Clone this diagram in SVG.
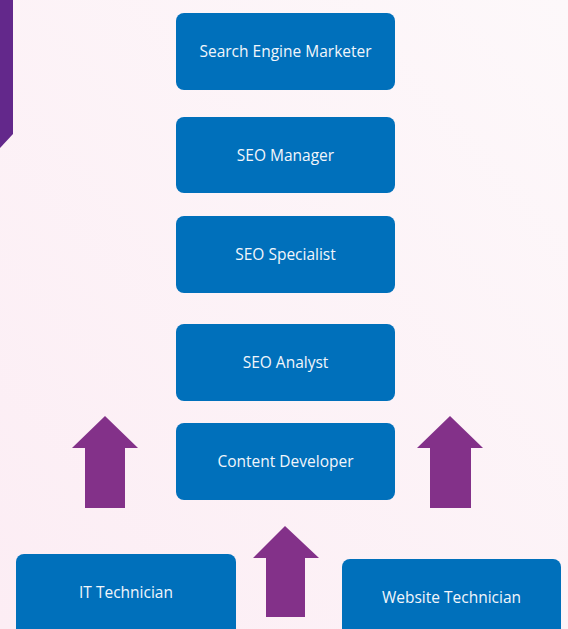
<svg xmlns="http://www.w3.org/2000/svg" width="568" height="629" viewBox="0 0 568 629">
<defs>
<linearGradient id="bg" x1="0" y1="1" x2="1" y2="0">
<stop offset="0" stop-color="#fcedf4"/>
<stop offset="1" stop-color="#fdf8fa"/>
</linearGradient>
<style>
.box{fill:#0070bb;}
.lbl{font-family:"Open Sans","Liberation Sans",sans-serif;font-size:15.5px;fill:#f2f6fb;text-anchor:middle;dominant-baseline:central;}
.arr{fill:#833189;}
</style>
</defs>
<rect width="568" height="629" fill="url(#bg)"/>
<polygon points="0,0 13,0 13,134 0,148" fill="#63288b"/>
<g id="n1"><rect class="box" x="176" y="13" width="219" height="77" rx="8"/><text class="lbl" x="285.5" y="51">Search Engine Marketer</text></g>
<g id="n2"><rect class="box" x="176" y="117" width="219" height="76" rx="8"/><text class="lbl" x="285.5" y="155">SEO Manager</text></g>
<g id="n3"><rect class="box" x="176" y="216" width="219" height="77" rx="8"/><text class="lbl" x="285.5" y="254">SEO Specialist</text></g>
<g id="n4"><rect class="box" x="176" y="324" width="219" height="77" rx="8"/><text class="lbl" x="285.5" y="362">SEO Analyst</text></g>
<g id="n5"><rect class="box" x="176" y="423" width="219" height="77" rx="8"/><text class="lbl" x="285.5" y="461">Content Developer</text></g>
<g id="n6"><rect class="box" x="16" y="554" width="220" height="90" rx="8"/><text class="lbl" x="126" y="592">IT Technician</text></g>
<g id="n7"><rect class="box" x="342" y="559" width="219" height="90" rx="8"/><text class="lbl" x="451.5" y="597">Website Technician</text></g>
<g id="connectors">
<polygon class="arr" points="105,416 138,448 125,448 125,508 85,508 85,448 72,448"/>
<polygon class="arr" points="285,526 319,558 305,558 305,617 266,617 266,558 253,558"/>
<polygon class="arr" points="450,416 483,448 471,448 471,508 430,508 430,448 417,448"/>
</g>
</svg>
